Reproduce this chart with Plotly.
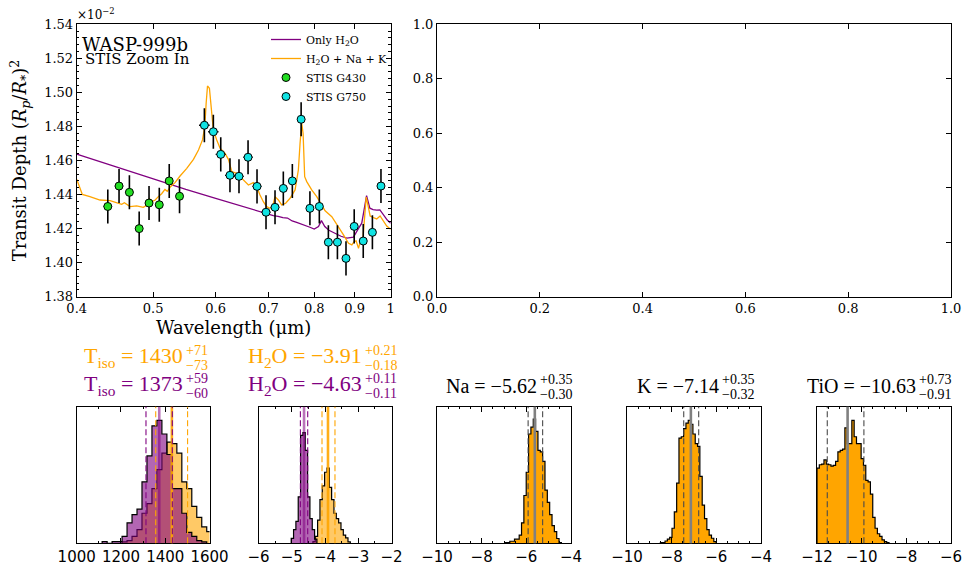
import plotly.graph_objects as go

W, H = 969, 569

# ---------------- data ----------------
g430_wl = [0.438, 0.4526, 0.4665, 0.480, 0.494, 0.509, 0.524, 0.540]
g430_depth = [1.433, 1.445, 1.4413, 1.420, 1.435, 1.434, 1.448, 1.439]
g430_err = [0.010, 0.010, 0.010, 0.010, 0.010, 0.010, 0.010, 0.010]
g430_xerr = [0.0055, 0.0055, 0.0055, 0.0055, 0.0055, 0.0055, 0.0055, 0.0055]

g750_wl = [0.5806, 0.596, 0.609, 0.6256, 0.6423, 0.6595, 0.677, 0.695, 0.7135,
           0.731, 0.7505, 0.770, 0.790, 0.812, 0.8337, 0.856, 0.8777, 0.899,
           0.923, 0.948, 0.972]
g750_depth = [1.4807, 1.4769, 1.4636, 1.4513, 1.4507, 1.4619, 1.4448, 1.4296,
              1.4325, 1.4436, 1.448, 1.4842, 1.4319, 1.433, 1.412, 1.412,
              1.4025, 1.4213, 1.4127, 1.4178, 1.445]
g750_err = [0.010] * 21
g750_xerr = [0.009] * 21

h2o_wl = [0.400, 0.450, 0.500, 0.550, 0.600, 0.650, 0.690, 0.700, 0.710, 0.720,
          0.730, 0.740, 0.750, 0.760, 0.770, 0.780, 0.790, 0.800, 0.810, 0.817,
          0.825, 0.835, 0.850, 0.865, 0.880, 0.897, 0.910, 0.919, 0.932, 0.941,
          0.950, 0.960, 0.969, 0.980, 0.990, 1.000]
h2o_depth = [1.4638, 1.4560, 1.4494, 1.4430, 1.4378, 1.4330, 1.4292, 1.4282,
             1.4276, 1.4272, 1.4264, 1.4262, 1.4245, 1.4236, 1.4228, 1.4218,
             1.4208, 1.4197, 1.4212, 1.4247, 1.4212, 1.4190, 1.4172, 1.4155,
             1.4144, 1.4150, 1.4200, 1.4232, 1.4394, 1.4320, 1.4312, 1.4308,
             1.4310, 1.4275, 1.4250, 1.4232]

full_wl = [0.400, 0.4066, 0.4157, 0.4281, 0.4409, 0.4498, 0.4561, 0.4597, 0.4625,
           0.4674, 0.4765, 0.4858, 0.4906, 0.4944, 0.4979, 0.5030, 0.5076, 0.5125,
           0.5175, 0.521, 0.526, 0.5329, 0.5408, 0.5515, 0.5624, 0.5707, 0.5774,
           0.5813, 0.5836, 0.5859, 0.5892, 0.5921, 0.596, 0.6019, 0.6078, 0.6167,
           0.6228, 0.6289, 0.6381, 0.6443, 0.6537, 0.6602, 0.6698, 0.6763, 0.6829,
           0.6896, 0.6964, 0.7031, 0.7085, 0.7135, 0.7205, 0.7275, 0.7360, 0.7455,
           0.7565, 0.7638, 0.7676, 0.7713, 0.7744, 0.778, 0.7827, 0.7941, 0.8059,
           0.8177, 0.8258, 0.8421, 0.8586, 0.8713, 0.8841, 0.8928, 0.899, 0.904,
           0.9104, 0.916, 0.922, 0.931, 0.936, 0.9418, 0.950, 0.960, 0.9695, 0.979,
           0.9884, 1.000]
full_depth = [1.4490, 1.4401, 1.4388, 1.4368, 1.4364, 1.4349, 1.4343, 1.4352, 1.4343,
              1.4329, 1.4333, 1.4325, 1.4337, 1.4378, 1.4358, 1.4368, 1.4388, 1.4405,
              1.4430, 1.4419, 1.4446, 1.4470, 1.4509, 1.4554, 1.4607, 1.4662, 1.4721,
              1.4799, 1.4936, 1.5038, 1.5024, 1.4916, 1.4779, 1.4721, 1.4672, 1.4642,
              1.4607, 1.4535, 1.4525, 1.4505, 1.4476, 1.4456, 1.4470, 1.4446, 1.4397,
              1.4358, 1.4329, 1.4319, 1.4329, 1.4388, 1.4368, 1.4339, 1.4349, 1.4378,
              1.4427, 1.4544, 1.4701, 1.4818, 1.4760, 1.4505, 1.4476, 1.4427, 1.4388,
              1.4339, 1.4305, 1.4270, 1.4212, 1.4163, 1.4114, 1.4104, 1.4124, 1.4128,
              1.4084, 1.4133, 1.4135, 1.4385, 1.4335, 1.4274, 1.4265, 1.4257, 1.4274,
              1.4240, 1.4215, 1.4196]

# histograms (left bin edge, bin width, heights as fraction of panel height)
tiso_full_start, tiso_full_width = 1205.0, 22.5
tiso_full_h = [0.01, 0.02, 0.05, 0.10, 0.22, 0.29, 0.40, 0.54, 0.66, 0.74, 0.73,
               0.66, 0.45, 0.40, 0.27, 0.19, 0.12, 0.085]
tiso_h2o_start, tiso_h2o_width = 1115.0, 22.5
tiso_h2o_h = [0.012, 0.0, 0.012, 0.012, 0.05, 0.15, 0.21, 0.25, 0.45, 0.64, 0.86,
              0.90, 0.80, 0.65, 0.40, 0.40, 0.22, 0.08, 0.05, 0.02, 0.01]

wat_full_start, wat_full_width = -4.363, 0.0703
wat_full_h = [0.012, 0.05, 0.17, 0.32, 0.42, 0.52, 0.55, 0.41, 0.32, 0.22, 0.18,
              0.15, 0.10, 0.06, 0.04, 0.01]
wat_h2o_start, wat_h2o_width = -5.016, 0.0703
wat_h2o_h = [0.036, 0.10, 0.16, 0.34, 0.79, 0.81, 0.68, 0.34, 0.18, 0.10, 0.03]

na_start, na_width = -6.95, 0.105
na_h = [0.005, 0.005, 0.015, 0.015, 0.03, 0.03, 0.06, 0.15, 0.35, 0.52, 0.80, 0.85,
        0.91, 0.82, 0.68, 0.67, 0.60, 0.39, 0.30, 0.21, 0.13, 0.085, 0.035, 0.005]

k_start, k_width = -8.505, 0.104
k_h = [0.005, 0.005, 0.017, 0.03, 0.044, 0.11, 0.23, 0.44, 0.77, 0.78, 0.84, 0.88,
       0.90, 0.87, 0.80, 0.73, 0.71, 0.49, 0.28, 0.18, 0.10, 0.06, 0.037, 0.012]

tio_start, tio_width = -12.0, 0.104
tio_h = [0.55, 0.575, 0.58, 0.61, 0.58, 0.575, 0.565, 0.57, 0.60, 0.67, 0.68, 0.69,
         0.845, 0.73, 0.73, 0.90, 0.78, 0.73, 0.73, 0.62, 0.57, 0.46, 0.45, 0.36,
         0.19, 0.11, 0.07, 0.05, 0.025, 0.012, 0.005]

# retrieved values: (median, +err, -err)
tiso_full = (1430, 71, 73)
tiso_h2o = (1373, 59, 60)
wat_full = (-3.91, 0.21, 0.18)
wat_h2o = (-4.63, 0.11, 0.11)
na_val = (-5.62, 0.35, 0.30)
k_val = (-7.14, 0.35, 0.32)
tio_val = (-10.63, 0.73, 0.91)

ORANGE = '#FFA500'
PURPLE = '#800080'
SERIF = 'DejaVu Serif'


def px(x):
    return x / W


def py(y):
    return 1 - y / H


fig = go.Figure()

# ---- main panel ----
fig.add_trace(go.Scatter(x=h2o_wl, y=h2o_depth, mode='lines', name='Only H<sub>2</sub>O',
                         line=dict(color=PURPLE, width=1.3), xaxis='x', yaxis='y'))
fig.add_trace(go.Scatter(x=full_wl, y=full_depth, mode='lines', name='H<sub>2</sub>O + Na + K',
                         line=dict(color=ORANGE, width=1.3), xaxis='x', yaxis='y'))
fig.add_trace(go.Scatter(x=g430_wl, y=g430_depth, mode='markers', name='STIS G430',
                         marker=dict(color='#22dd22', size=8, line=dict(color='black', width=1)),
                         error_y=dict(type='data', array=g430_err, color='black', thickness=1.6, width=0),
                         error_x=dict(type='data', array=g430_xerr, color='black', thickness=1.3, width=0),
                         xaxis='x', yaxis='y'))
fig.add_trace(go.Scatter(x=g750_wl, y=g750_depth, mode='markers', name='STIS G750',
                         marker=dict(color='#11e3e3', size=8, line=dict(color='black', width=1)),
                         error_y=dict(type='data', array=g750_err, color='black', thickness=1.6, width=0),
                         error_x=dict(type='data', array=g750_xerr, color='black', thickness=1.3, width=0),
                         xaxis='x', yaxis='y'))

# empty top-right panel
fig.add_trace(go.Scatter(x=[], y=[], xaxis='x2', yaxis='y2', showlegend=False))


def step_hist(start, width, heights, fillcolor, xa, ya):
    n = len(heights)
    edges = [start + width * i for i in range(n + 1)]
    xs = [edges[0]] + edges[:n] + [edges[n]]
    ys = [0] + list(heights) + [0]
    return go.Scatter(x=xs, y=ys, mode='lines', line=dict(shape='hv', color='black', width=1.2),
                      fill='tozeroy', fillcolor=fillcolor, xaxis=xa, yaxis=ya,
                      showlegend=False, hoverinfo='skip')


fig.add_trace(step_hist(tiso_full_start, tiso_full_width, tiso_full_h, 'rgba(255,165,0,0.6)', 'x3', 'y3'))
fig.add_trace(step_hist(tiso_h2o_start, tiso_h2o_width, tiso_h2o_h, 'rgba(128,0,128,0.6)', 'x3', 'y3'))
fig.add_trace(step_hist(wat_full_start, wat_full_width, wat_full_h, 'rgba(255,165,0,0.6)', 'x4', 'y4'))
fig.add_trace(step_hist(wat_h2o_start, wat_h2o_width, wat_h2o_h, 'rgba(128,0,128,0.6)', 'x4', 'y4'))
fig.add_trace(step_hist(na_start, na_width, na_h, ORANGE, 'x5', 'y5'))
fig.add_trace(step_hist(k_start, k_width, k_h, ORANGE, 'x6', 'y6'))
fig.add_trace(step_hist(tio_start, tio_width, tio_h, ORANGE, 'x7', 'y7'))

shapes = []


def vlines(val, solid_color, dash_color, xa, ya):
    med, up, lo = val
    shapes.append(dict(type='line', xref=xa, yref=ya + ' domain', x0=med, x1=med, y0=0, y1=1,
                       line=dict(color=solid_color, width=2.6), layer='above'))
    for v in (med - lo, med + up):
        shapes.append(dict(type='line', xref=xa, yref=ya + ' domain', x0=v, x1=v, y0=0, y1=1,
                           line=dict(color=dash_color, width=1.1, dash='6px,3px'), layer='above'))


vlines(tiso_full, 'rgba(255,165,0,0.9)', ORANGE, 'x3', 'y3')
vlines(tiso_h2o, 'rgba(128,0,128,0.55)', PURPLE, 'x3', 'y3')
vlines(wat_full, 'rgba(255,165,0,0.9)', ORANGE, 'x4', 'y4')
vlines(wat_h2o, 'rgba(128,0,128,0.55)', PURPLE, 'x4', 'y4')
vlines(na_val, '#808080', '#4a4a4a', 'x5', 'y5')
vlines(k_val, '#808080', '#4a4a4a', 'x6', 'y6')
vlines(tio_val, '#808080', '#4a4a4a', 'x7', 'y7')


def frame(domain, anchor, **kw):
    d = dict(domain=domain, anchor=anchor, showline=True, linecolor='black', linewidth=1,
             mirror='ticks', ticks='inside', tickcolor='black', ticklen=5, showgrid=False,
             zeroline=False, color='black', automargin=False)
    d.update(kw)
    return d


MAIN_X = [px(76.7), px(390.7)]
MAIN_Y = [py(296.7), py(24.3)]
TR_X = [px(437), px(951)]
HIST_Y = [py(543.3), py(406.7)]
hx = [[76.7, 209.5], [258.5, 391.5], [437, 571], [627, 761], [817, 951]]

tickfont_main = dict(family=SERIF, size=13, color='black')
tickfont_hist = dict(family='DejaVu Sans', size=15, color='black')

layout_axes = {}
layout_axes['xaxis'] = frame(MAIN_X, 'y', type='log', range=[-0.39794, 0.0],
                             tickvals=[0.4, 0.5, 0.6, 0.7, 0.8, 0.9, 1.0],
                             ticktext=['0.4', '0.5', '0.6', '0.7', '0.8', '0.9', '1'],
                             tickfont=tickfont_main,
                             title=dict(text='Wavelength (μm)', font=dict(family=SERIF, size=18, color='black'), standoff=6))
layout_axes['yaxis'] = frame(MAIN_Y, 'x', range=[1.38, 1.54], dtick=0.02, tickformat='.2f',
                             tickfont=tickfont_main,
                             minor=dict(ticks='inside', ticklen=2.5, tickcolor='black', dtick=0.004),
                             title=dict(text='Transit Depth (<i>R<sub>p</sub></i>/<i>R</i><sub>*</sub>)<sup>2</sup>',
                                        font=dict(family=SERIF, size=18, color='black'), standoff=12))
layout_axes['xaxis2'] = frame(TR_X, 'y2', range=[0, 1], dtick=0.2, tickformat='.1f', tickfont=tickfont_main)
layout_axes['yaxis2'] = frame(MAIN_Y, 'x2', range=[0, 1], dtick=0.2, tickformat='.1f', tickfont=tickfont_main)

hist_ranges = [[1000, 1600], [-6, -2], [-10, -4], [-10, -4], [-12, -6]]
hist_dticks = [(200, 100), (1, 0.5), (2, 0.5), (2, 0.5), (2, 0.5)]
for i in range(5):
    n = i + 3
    layout_axes['xaxis%d' % n] = frame([px(hx[i][0]), px(hx[i][1])], 'y%d' % n,
                                       range=hist_ranges[i], dtick=hist_dticks[i][0],
                                       tick0=hist_ranges[i][0], tickfont=tickfont_hist,
                                       minor=dict(ticks='inside', ticklen=2.5, tickcolor='black',
                                                  dtick=hist_dticks[i][1]))
    layout_axes['yaxis%d' % n] = dict(domain=HIST_Y, anchor='x%d' % n, range=[0, 1], showline=True,
                                      linecolor='black', linewidth=1, mirror=True, ticks='',
                                      showticklabels=False, showgrid=False, zeroline=False,
                                      automargin=False)

annotations = []


def ann(x, y, text, size, color='black', family=SERIF, xanchor='left', yanchor='middle'):
    annotations.append(dict(x=px(x), y=py(y), xref='paper', yref='paper', text=text, showarrow=False,
                            xanchor=xanchor, yanchor=yanchor,
                            font=dict(family=family, size=size, color=color), borderpad=0))


ann(76, 14, '×10<sup>−2</sup>', 12)
ann(81, 44, 'WASP-999b', 18)
ann(84, 59, 'STIS Zoom In', 15)

MF = 'Liberation Serif'


def title(xr, yc, label, val, color, size, ndig):
    med, up, lo = val
    m = ('%.*f' % (ndig, med)).replace('-', '−')
    ann(xr, yc, label + ' = ' + m, size, color, MF, xanchor='right')
    ann(xr + 1, yc - 7, '+' + ('%.*f' % (ndig, up)), 14, color, MF)
    ann(xr + 1, yc + 8, '−' + ('%.*f' % (ndig, lo)), 14, color, MF)


title(184, 357, 'T<sub>iso</sub>', tiso_full, ORANGE, 22, 0)
title(184, 385, 'T<sub>iso</sub>', tiso_h2o, PURPLE, 22, 0)
title(363, 357, 'H<sub>2</sub>O', wat_full, ORANGE, 22, 2)
title(363, 385, 'H<sub>2</sub>O', wat_h2o, PURPLE, 22, 2)
title(538, 386, 'Na', na_val, 'black', 20, 2)
title(719.5, 386, 'K', k_val, 'black', 20, 2)
title(916.5, 386, 'TiO', tio_val, 'black', 20, 2)

fig.update_layout(
    width=W, height=H, margin=dict(l=0, r=0, t=0, b=0, autoexpand=False),
    paper_bgcolor='white', plot_bgcolor='white',
    showlegend=True,
    legend=dict(x=px(266), y=py(25), xanchor='left', yanchor='top',
                font=dict(family=SERIF, size=11, color='black'), bgcolor='rgba(0,0,0,0)',
                itemwidth=30, tracegroupgap=0),
    shapes=shapes, annotations=annotations,
    **layout_axes
)

fig.write_html('out.html')
